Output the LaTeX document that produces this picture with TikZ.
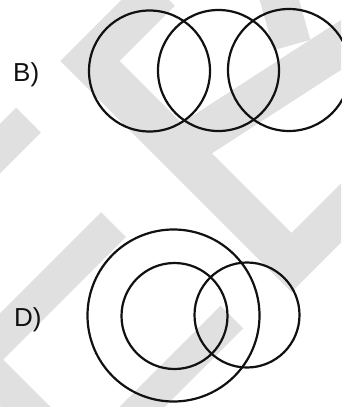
\documentclass[tikz,border=0pt]{standalone}
\usepackage{fontspec}
\setmainfont{Liberation Sans}
\definecolor{inkblack}{HTML}{111111}
\definecolor{stripegray}{HTML}{E0E0E0}

\begin{document}
\begin{tikzpicture}[
  x=1pt, y=-1pt,
  ring/.style={draw=inkblack, line width=2.2pt},
  band/.style={stripegray, line cap=butt, miter limit=10},
  optlabel/.style={font=\fontsize{26}{30}\selectfont, text=inkblack, anchor=base west, inner sep=0pt},
]

% Frame
\useasboundingbox (0,0) rectangle (341,407);
\fill[white] (0,0) rectangle (341,407);

% === Watermark stripes ===
\begin{scope}
\clip (0,0) rectangle (341,407);
\draw[band, line width=42pt] (160,-9) -- (90,61) -- (291.5,262.5) -- (360,194);
\draw[band, line width=42pt] (180,149) -- (330,52) -- (360,33);
\draw[band, line width=38pt] (292,45) -- (278,-5);
\draw[band, line width=35pt] (28.5,120) -- (-20,168.5);
\draw[band, line width=35pt] (113.5,224.5) -- (-21.5,359.5) -- (40,421);
\draw[band, line width=32pt] (232,317) -- (120,429);
\end{scope}

% === B) three circles in a row ===
\node[optlabel] (labB) at (13,81) {B)};
\draw[ring] (149.5,71) circle (60.5pt);
\draw[ring] (218.5,70.5) circle (60.5pt);
\draw[ring] (289,70) circle (61pt);

% === D) large circle around one, crossing the other ===
\node[optlabel] (labD) at (14,326) {D)};
\draw[ring] (173.5,315.5) circle (86pt);
\draw[ring] (174.5,316) circle (53pt);
\draw[ring] (247,315) circle (52.5pt);

\end{tikzpicture}
\end{document}
